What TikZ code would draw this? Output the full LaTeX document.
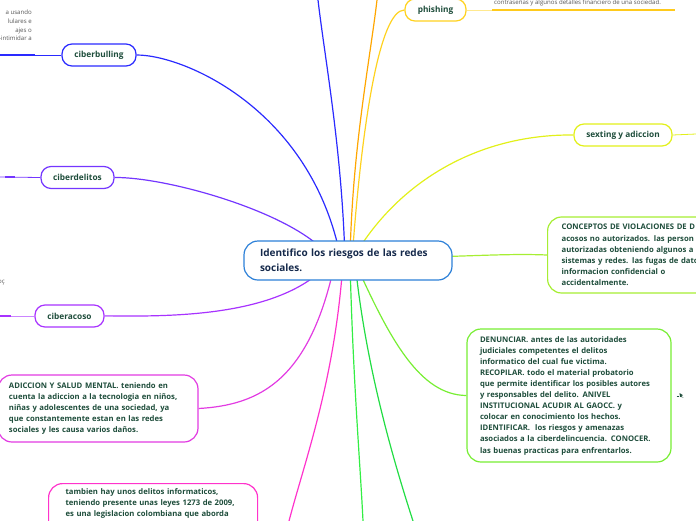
\documentclass[tikz,border=0pt]{standalone}
\usepackage{fontspec}
\setmainfont{Open Sans}
\usetikzlibrary{backgrounds}
\definecolor{bluec}{HTML}{2A2AFF}
\definecolor{cblue}{HTML}{2C80D8}
\definecolor{navyc}{HTML}{15294B}
\definecolor{txtg}{HTML}{1E4D3B}
\definecolor{violetc}{HTML}{7436FF}
\definecolor{purplec}{HTML}{A833FF}
\definecolor{magc}{HTML}{E23BE2}
\definecolor{pinkc}{HTML}{FF33CC}
\definecolor{orangec}{HTML}{FFA600}
\definecolor{goldc}{HTML}{FFD21F}
\definecolor{limec}{HTML}{E2F01A}
\definecolor{concc}{HTML}{A6EE33}
\definecolor{denc}{HTML}{77EE33}
\definecolor{greena}{HTML}{33EE44}
\definecolor{greenb}{HTML}{22DD44}
\definecolor{fragc}{HTML}{555555}
\begin{document}
\begin{tikzpicture}[x=1pt,y=-1pt,
  topic/.style={draw, line width=1.2pt, rounded corners=10pt, fill=white, minimum height=22pt, inner sep=0pt, font=\fontsize{8.3}{10}\selectfont\bfseries, text=txtg},
  note/.style={draw, line width=1.2pt, rounded corners=14pt, fill=white, align=left, inner ysep=0pt, font=\fontsize{7.7}{11.1}\selectfont\bfseries, text=txtg},
  branch/.style={line width=1.2pt},
  frag/.style={font=\fontsize{6.1}{8.7}\selectfont, text=fragc, inner sep=0pt}]
\useasboundingbox (0,0) rectangle (696,520);
\clip (0,0) rectangle (696,520);
% central topic
\node[draw=cblue, line width=1.2pt, rounded corners=14pt, fill=white, minimum width=208pt, minimum height=39pt, text width=176pt, align=left, inner sep=0pt, font=\fontsize{10}{15}\selectfont\bfseries, text=navyc] (center) at (348,260.5) {Identifico los riesgos de las redes\\sociales.};
% topics
\node[topic, draw=bluec, minimum width=74pt] (bull) at (99,55) {ciberbulling};
\node[topic, draw=goldc, minimum width=61pt] (phish) at (435.5,10) {phishing};
\node[topic, draw=limec, minimum width=98pt] (sext) at (623,135) {sexting y adiccion};
\node[topic, draw=violetc, minimum width=73pt] (delit) at (77.5,177.5) {ciberdelitos};
\node[topic, draw=purplec, minimum width=69pt] (acoso) at (69.5,316) {ciberacoso};
% notes
\node[note, draw=concc, anchor=west, inner xsep=14pt, text width=185pt, minimum height=76pt] (conc) at (547,255) {CONCEPTOS DE VIOLACIONES DE D\\acosos no autorizados. las person\\autorizadas obteniendo algunos a\\sistemas y redes. las fugas de dato\\informacion confidencial o\\accidentalmente.};
\node[note, draw=denc, inner xsep=13pt, text width=178pt, minimum height=133pt] (denun) at (569,395.5) {DENUNCIAR. antes de las autoridades\\judiciales competentes el delitos\\informatico del cual fue victima.\\RECOPILAR. todo el material probatorio\\que permite identificar los posibles autores\\y responsables del delito. ANIVEL\\INSTITUCIONAL ACUDIR AL GAOCC. y\\colocar en conocimiento los hechos.\\IDENTIFICAR.\ \ los riesgos y amenazas\\asociados a la ciberdelincuencia. CONOCER.\\las buenas practicas para enfrentarlos.};
\node[note, draw=magc, inner xsep=11pt, text width=178pt, minimum height=67pt] (adic) at (98,408.5) {ADICCION Y SALUD MENTAL. teniendo en\\cuenta la adiccion a la tecnologia en niños,\\niñas y adolescentes de una sociedad, ya\\que constantemente estan en las redes\\sociales y les causa varios daños.};
\node[note, draw=pinkc, anchor=north west, inner xsep=17pt, inner ysep=5pt, text width=175pt, text depth=70pt] (tamb) at (48,483) {tambien hay unos delitos informaticos,\\teniendo presente unas leyes 1273 de 2009,\\es una legislacion colombiana que aborda};
% fragments of cut-off notes
\node[frag, anchor=north east, align=right] (bulltext) at (32,10) {a usando\\lulares e\hspace*{6pt}\\ajes o\hspace*{10pt}\\-intimidar a};
\node[frag, anchor=base west] (phishtext) at (494,4.5) {contraseñas y algunos detalles financiero de una sociedad.};
\node[frag, anchor=east] (acosotext) at (5,283) {oç};
% free ends
\coordinate (topblue) at (318,0);
\coordinate (toporange) at (377,0);
\coordinate (bgreena) at (363,521);
\coordinate (bgreenb) at (413,521);
\coordinate (bpink) at (289,521);
\coordinate (bullend) at (0,55);
\coordinate (bullmid) at (35,55);
\coordinate (delitend) at (0,177);
\coordinate (acosoend) at (0,316);
\coordinate (sextend) at (696,134);
\coordinate (phishend) at (675,10);
% icon beside the DENUNCIAR note
\fill[txtg] (679.5,393) -- (683,395.2) -- (681,396) -- (683.5,397.5) -- (680,396.8) -- cycle;
\draw[txtg, line width=0.5pt] (676.5,396) -- (679,396);
\begin{scope}[on background layer]
\clip (0,0) rectangle (696,520);
\draw[branch, bluec] (345,260) .. controls (342,150) and (325,60) .. (topblue);
\draw[branch, orangec] (350,260) .. controls (352,150) and (370,60) .. (toporange);
\draw[branch, goldc] (352,260) .. controls (362,120) and (380,10) .. (phish.west);
\draw[branch, bluec] (340,255) .. controls (310,110) and (185,55) .. (bull.east);
\draw[branch, violetc] (330,258) .. controls (300,215) and (170,177) .. (delit.east);
\draw[branch, limec] (355,255) .. controls (400,180) and (480,134) .. (sext.west);
\draw[branch, concc] (360,258) .. controls (450,258) and (500,253) .. (conc.west);
\draw[branch, denc] (355,262) .. controls (390,340) and (420,395) .. (denun.west);
\draw[branch, greena] (350,262) .. controls (353,380) and (360,460) .. (bgreena);
\draw[branch, greenb] (355,262) .. controls (365,360) and (390,450) .. (bgreenb);
\draw[branch, pinkc] (343,262) .. controls (335,380) and (305,460) .. (bpink);
\draw[branch, magc] (335,262) .. controls (310,380) and (260,405) .. (adic.east);
\draw[branch, purplec] (330,262) .. controls (280,320) and (160,316) .. (acoso.east);
% outer links
\draw[bluec, line width=0.8pt] (bull.west) -- (bullmid);
\draw[bluec, line width=2.2pt] (bullmid) -- (bullend);
\draw[violetc, line width=0.8pt] (delit.west) -- (delitend);
\draw[violetc, line width=2.2pt] (15,177) -- (5,177);
\draw[purplec!60, line width=0.8pt] (acoso.west) -- (acosoend);
\draw[purplec, line width=2.2pt] (11,316) -- (acosoend);
\draw[purplec!50, line width=0.8pt] (acoso.east) -- ++(8,0);
\draw[limec, line width=0.8pt] (sext.east) -- (sextend);
\draw[goldc!50, line width=0.8pt] (phish.east) -- (492,10);
\draw[goldc!90!orange, line width=2pt] (492,10) -- (phishend);
\end{scope}
\end{tikzpicture}
\end{document}
